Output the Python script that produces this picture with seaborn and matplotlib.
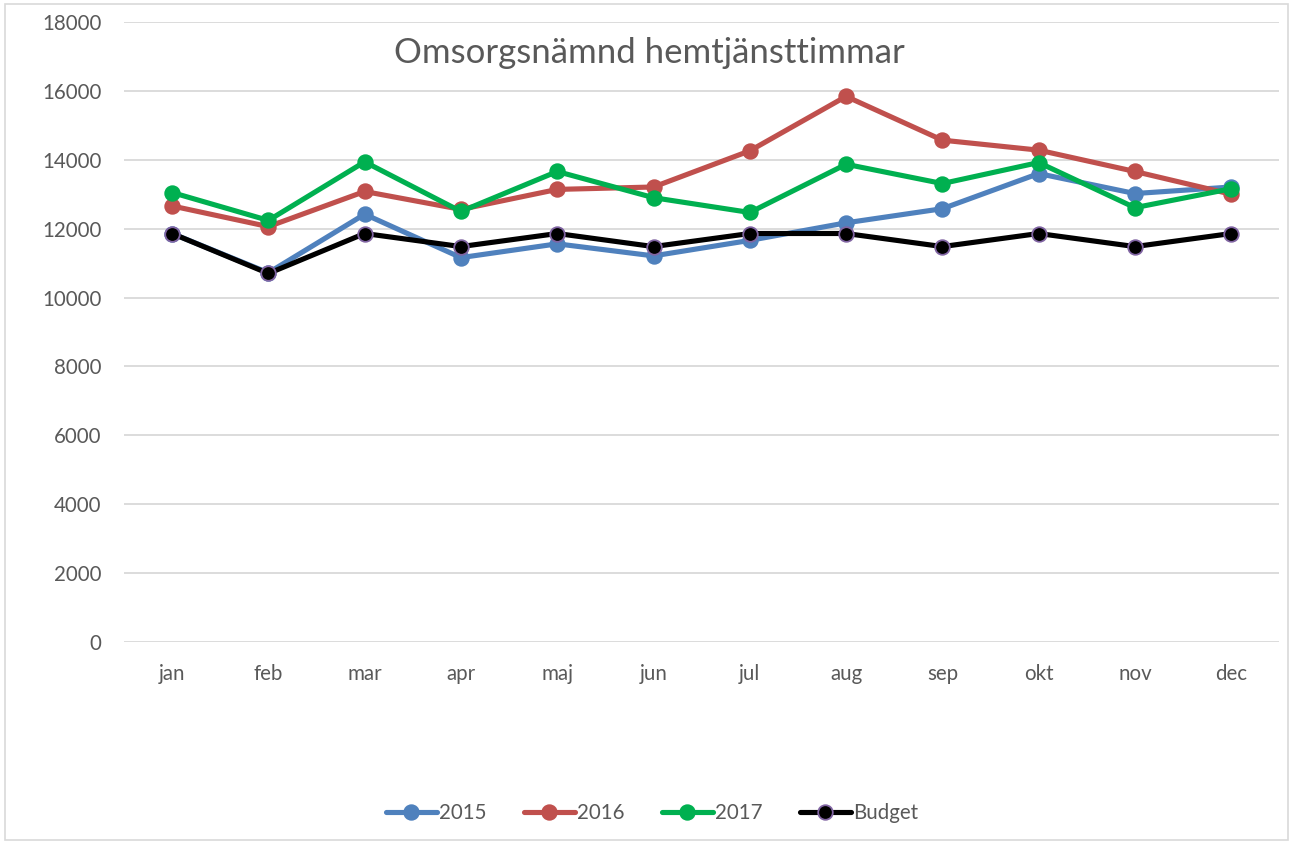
import numpy as np
import pandas as pd
import matplotlib
matplotlib.use("Agg")
import matplotlib.pyplot as plt
import seaborn as sns
from matplotlib.lines import Line2D
from matplotlib.patches import Rectangle

# data
months = ["jan", "feb", "mar", "apr", "maj", "jun", "jul", "aug", "sep", "okt", "nov", "dec"]
y2015 = [11860, 10720, 12420, 11160, 11560, 11210, 11660, 12170, 12580, 13600, 13020, 13210]
y2016 = [12660, 12060, 13080, 12560, 13140, 13210, 14260, 15840, 14570, 14280, 13660, 13000]
y2017 = [13050, 12240, 13940, 12500, 13660, 12900, 12470, 13870, 13310, 13920, 12610, 13160]
budget = [11860, 10700, 11860, 11480, 11860, 11480, 11860, 11860, 11480, 11860, 11480, 11860]

series_names = ["2015", "2016", "2017", "Budget"]
series_values = [y2015, y2016, y2017, budget]
colors = ["#4f81bd", "#c0504d", "#00b050", "#000000"]
edge_colors = ["#4f81bd", "#c0504d", "#00b050", "#8064a2"]

sns.set_theme(style="white")
plt.rcParams["font.family"] = ["Lato", "DejaVu Sans"]

fig = plt.figure(figsize=(12.91, 8.43), dpi=100)
ax = fig.add_axes([0.096, 0.2384, 0.895, 0.7355])

df = pd.DataFrame({"month": months})
for name, vals in zip(series_names, series_values):
    df[name] = vals

# later series drawn on top, like the original
for name, c, ec in zip(series_names, colors, edge_colors):
    sns.lineplot(data=df, x="month", y=name, ax=ax, color=c, linewidth=3.7,
                 marker="o", markersize=10.5, markeredgecolor=ec, markeredgewidth=1.3,
                 sort=False, zorder=3)

ax.set_xlim(-0.5, 11.5)
ax.set_ylim(0, 18000)
ax.set_yticks(np.arange(0, 18001, 2000))
ax.grid(axis="y", color="#d9d9d9", linewidth=1.3)
ax.grid(axis="x", visible=False)
for s in ax.spines.values():
    s.set_visible(False)
ax.set_xlabel("")
ax.set_ylabel("")
ax.tick_params(axis="y", length=0, pad=16, labelsize=14.8, labelcolor="#595959")
ax.tick_params(axis="x", length=0, pad=16, labelsize=14.8, labelcolor="#595959")

fig.text(0.503, 1 - 53 / 843, "Omsorgsnämnd hemtjänsttimmar", ha="center", va="center",
         fontsize=25, color="#595959")

handles = [Line2D([], [], color=c, linewidth=3.7, marker="o", markersize=10.5,
                  markeredgecolor=ec, markeredgewidth=1.3)
           for c, ec in zip(colors, edge_colors)]
fig.legend(handles, series_names, loc="center", bbox_to_anchor=(0.505, 1 - 813 / 843),
           ncol=4, frameon=False, fontsize=14.8, handlelength=2.5, handletextpad=0.1,
           columnspacing=1.8, labelcolor="#595959")

fig.patches.append(Rectangle((0.004, 0.003), 0.994, 0.992, transform=fig.transFigure,
                             fill=False, edgecolor="#d9d9d9", linewidth=1.2))

fig.savefig("out.png", dpi=100)
